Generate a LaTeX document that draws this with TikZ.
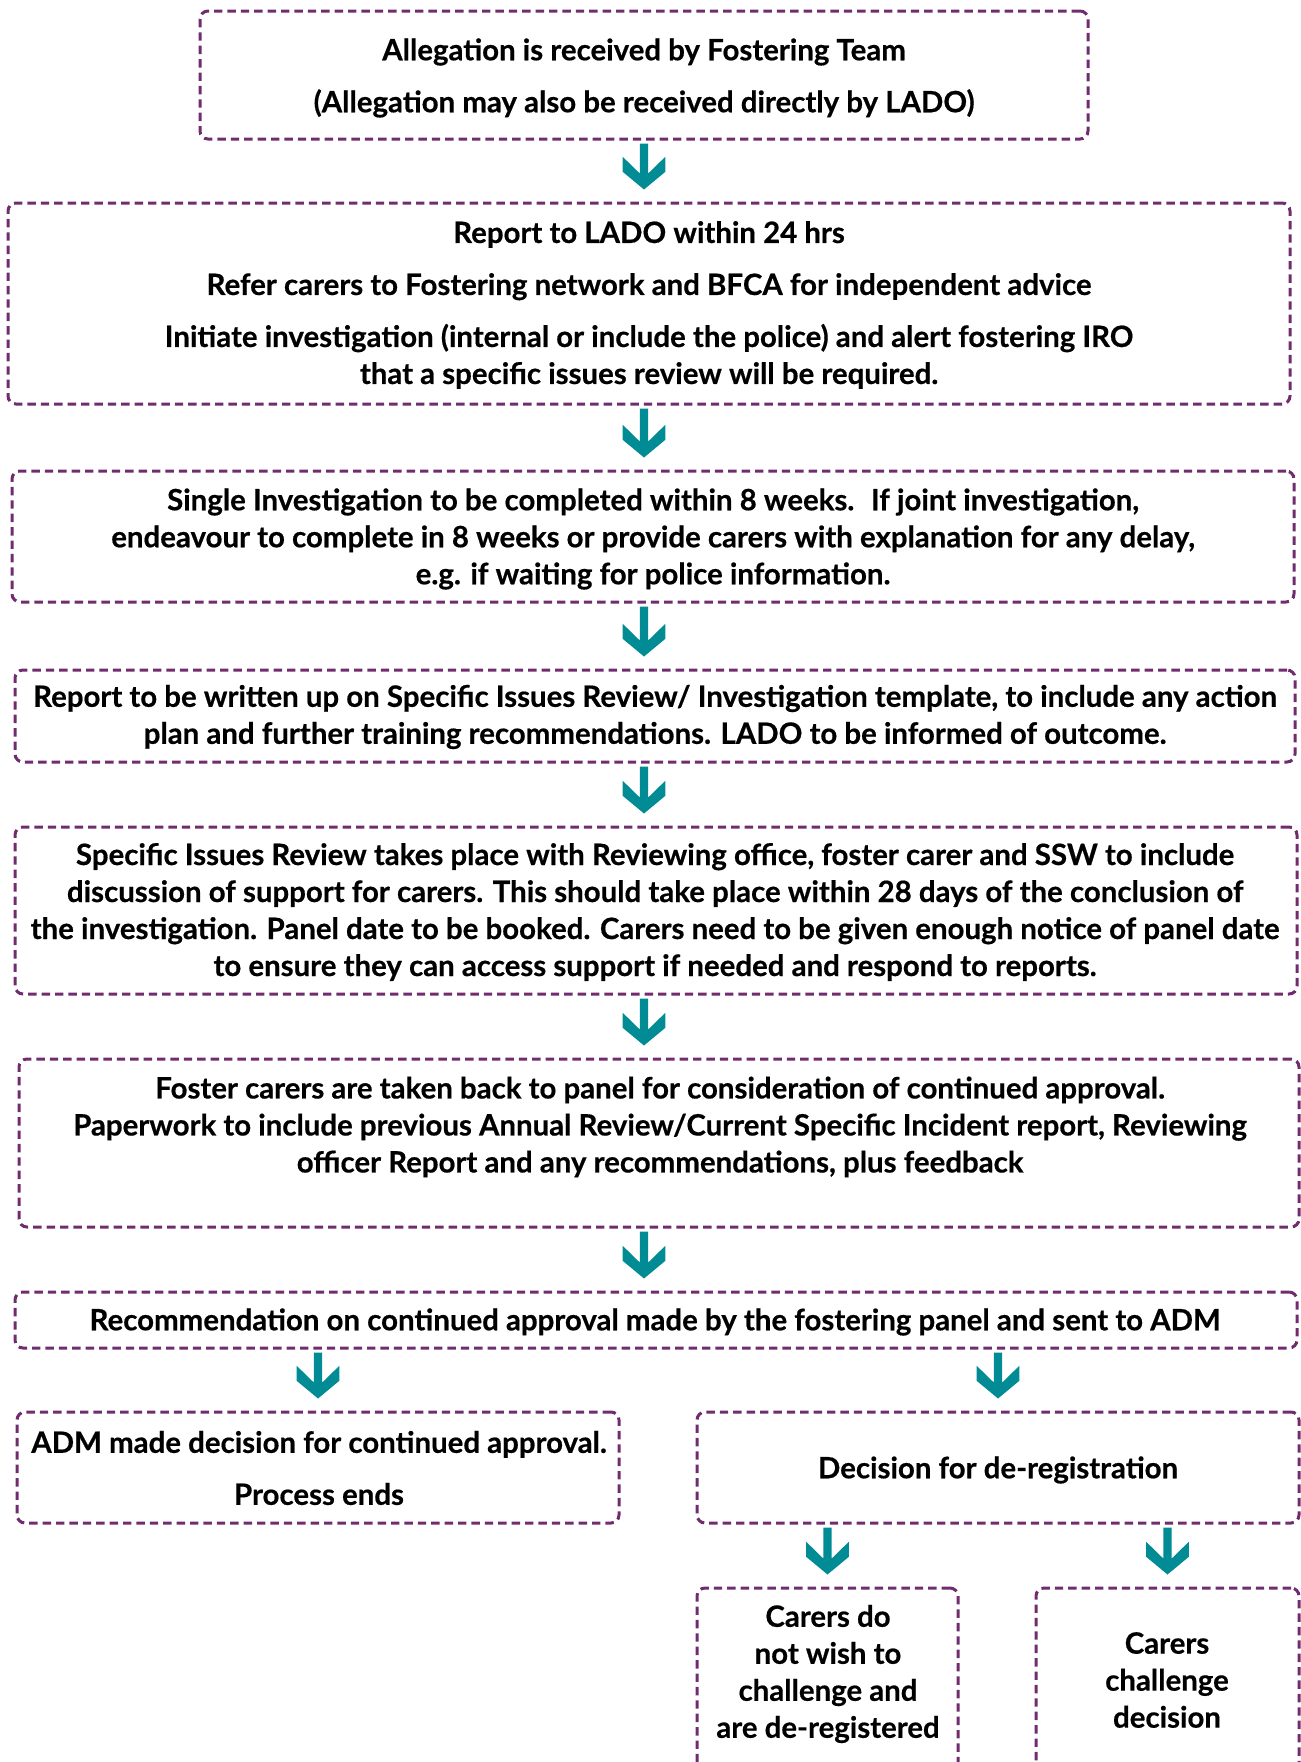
\documentclass[tikz,border=0pt]{standalone}
\usepackage{fontspec}
\setmainfont{Lato}[BoldFeatures={FakeBold=0.5}]
\usetikzlibrary{calc,fit}
\definecolor{dashpurple}{HTML}{702C6E}
\definecolor{arrowteal}{HTML}{008B95}
\tikzset{
 flowbox/.style={draw=dashpurple, line width=1.5pt, dash pattern=on 4.2pt off 2.5pt, rounded corners=4pt, inner sep=0pt},
 flowtext/.style={font=\bfseries\fontsize{14.7}{18.5}\selectfont, align=center, inner sep=0pt},
}
\newcommand\flowarrow[2]{%
 \fill[arrowteal] let \p1=#1, \p2=#2 in
 (\x2-2.1pt,\y1-1.5pt) -- (\x2-2.1pt,\y2+6pt+8pt) -- (\x2-10.65pt,\y2+6pt+16.35pt) -- (\x2-10.65pt,\y2+6pt+8.85pt) -- (\x2,\y2+6pt) -- (\x2+10.65pt,\y2+6pt+8.85pt) -- (\x2+10.65pt,\y2+6pt+16.35pt) -- (\x2+2.1pt,\y2+6pt+8pt) -- (\x2+2.1pt,\y1-1.5pt) -- cycle;}
\begin{document}
\begin{tikzpicture}[x=0.5pt,y=-0.5pt]
\useasboundingbox (0,0) rectangle (1301,1762);
\clip (0,0) rectangle (1301,1762);
% boxes
\node[flowbox, fit={(200,11) (1088,139)}] (b1) {};
\node[flowbox, fit={(8,203) (1290,404)}] (b2) {};
\node[flowbox, fit={(12,471) (1294,602)}] (b3) {};
\node[flowbox, fit={(15,670) (1295,762)}] (b4) {};
\node[flowbox, fit={(15,827) (1297,994)}] (b5) {};
\node[flowbox, fit={(19,1059) (1299,1227)}] (b6) {};
\node[flowbox, fit={(15,1292) (1297,1348)}] (b7) {};
\node[flowbox, fit={(17,1412) (619,1523)}] (b8) {};
\node[flowbox, fit={(697,1412) (1299,1523)}] (b9) {};
\node[flowbox, fit={(697,1588) (958,1780)}] (b10) {};
\node[flowbox, fit={(1036,1588) (1299,1780)}] (b11) {};
% texts
\node[flowtext] (t1) at (644,78) {Allegation is received by Fostering Team\\[7.5pt](Allegation may also be received directly by LADO)};
\node[flowtext] (t2) at (649,305) {Report to LADO within 24 hrs\\[7.5pt]Refer carers to Fostering network and BFCA for independent advice\\[7.5pt]Initiate investigation (internal or include the police) and alert fostering IRO\\that a specific issues review will be required.};
\node[flowtext] (t3) at (653,539) {Single Investigation to be completed within 8 weeks.~ If joint investigation,\\endeavour to complete in 8 weeks or provide carers with explanation for any delay,\\e.g. if waiting for police information.};
\node[flowtext] (t4) at (655,717) {Report to be written up on Specific Issues Review/ Investigation template, to include any action\\plan and further training recommendations. LADO to be informed of outcome.};
\node[flowtext] (t5) at (655,912) {Specific Issues Review takes place with Reviewing office, foster carer and SSW to include\\discussion of support for carers. This should take place within 28 days of the conclusion of\\the investigation. Panel date to be booked. Carers need to be given enough notice of panel date\\to ensure they can access support if needed and respond to reports.};
\node[flowtext] (t6) at (660,1127) {Foster carers are taken back to panel for consideration of continued approval.\\Paperwork to include previous Annual Review/Current Specific Incident report, Reviewing\\officer Report and any recommendations, plus feedback};
\node[flowtext] (t7) at (655,1322) {Recommendation on continued approval made by the fostering panel and sent to ADM};
\node[flowtext] (t8) at (319,1468) {ADM made decision for continued approval.\\[7.5pt]Process ends};
\node[flowtext] (t9) at (998,1470) {Decision for de-registration};
\node[flowtext] (t10) at (828,1674) {Carers do\\not wish to\\challenge and\\are de-registered};
\node[flowtext] (t11) at (1167,1680) {Carers\\challenge\\decision};
% arrows
\flowarrow{(b1.south)}{(b2.north -| b1.south)}
\flowarrow{(b2.south)}{(b3.north -| b1.south)}
\flowarrow{(b3.south)}{(b4.north -| b1.south)}
\flowarrow{(b4.south)}{(b5.north -| b1.south)}
\flowarrow{(b5.south)}{(b6.north -| b1.south)}
\flowarrow{(b6.south)}{(b7.north -| b1.south)}
\flowarrow{(b7.south)}{(b8.north)}
\flowarrow{(b7.south)}{(b9.north)}
\flowarrow{(b9.south)}{(b10.north)}
\flowarrow{(b9.south)}{(b11.north)}
\end{tikzpicture}
\end{document}
